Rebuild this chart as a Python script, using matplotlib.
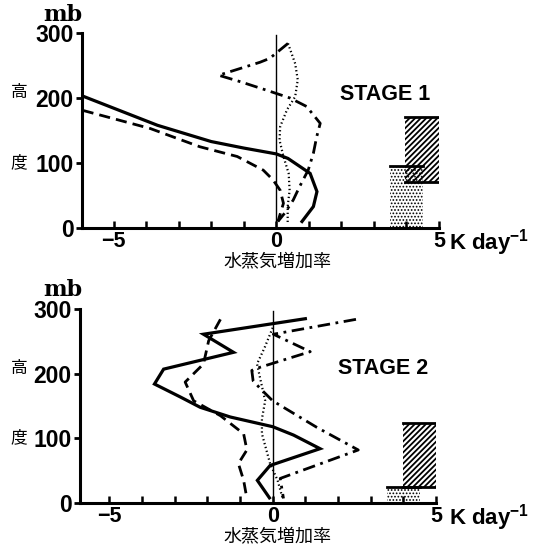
import matplotlib
matplotlib.use('Agg')
import numpy as np
import matplotlib.pyplot as plt

plt.rcParams['font.family'] = ['Liberation Sans', 'Noto Sans CJK JP']
plt.rcParams['mathtext.fontset'] = 'custom'
plt.rcParams['mathtext.rm'] = 'Liberation Sans:bold'
plt.rcParams['mathtext.bf'] = 'Liberation Sans:bold'

# ---- STAGE 1 profiles (x: K/day, y: mb)
s1_solid_x = [-5.95, -3.65, -2.0, -1.0, 0.0, 0.36, 1.04, 1.25, 1.14, 0.79]
s1_solid_y = [203, 158, 133, 123, 114, 107, 84, 56, 33, 10]
s1_dash_x = [-5.95, -3.87, -2.35, -1.2, -0.4, -0.1, 0.12, 0.22, 0.05]
s1_dash_y = [181, 153, 125, 110, 89, 74, 58, 38, 10]
s1_dashdot_x = [0.36, -0.2, -0.5, -1.77, -1.1, -0.3, 0.42, 0.93, 1.35, 1.24, 1.14, 0.98, 0.72, 0.52, 0.26, 0.05]
s1_dashdot_y = [284, 261, 255, 235, 225, 212, 200, 187, 161, 140, 115, 89, 64, 43, 23, 10]
s1_dot_x = [0.36, 0.58, 0.66, 0.58, 0.33, 0.12, 0.1, 0.22, 0.38, 0.41, 0.35, 0.35]
s1_dot_y = [284, 253, 228, 202, 182, 156, 135, 110, 84, 58, 33, 8]
# bars: (x0, x1, y0, y1)
s1_hatch_bar = (3.97, 5.0, 71, 171)
s1_stipple_bar = (3.5, 4.5, 0, 96)

# ---- STAGE 2 profiles
s2_solid_x = [1.0, -2.12, -1.2, -3.34, -3.62, -2.83, -2.22, -1.3, 0.0, 0.64, 1.45, -0.08, -0.47, -0.1]
s2_solid_y = [285, 261, 233, 207, 184, 164, 148, 133, 118, 105, 84, 58, 35, 8]
s2_dash_x = [-1.6, -1.96, -2.12, -2.68, -2.42, -1.6, -0.89, -0.79, -1.05, -0.89, -0.79]
s2_dash_y = [284, 251, 215, 187, 158, 135, 107, 82, 61, 35, 7]
s2_dot_x = [0.0, -0.25, -0.48, -0.35, -0.23, -0.33, -0.33, -0.08, 0.15, 0.3]
s2_dot_y = [271, 240, 215, 185, 158, 130, 107, 61, 35, 8]
s2_dashdot_x = [2.55, 0.02, 1.15, -0.38, -0.64, -0.6, -0.38, 0.0, 1.35, 2.62, 0.23, 0.33]
s2_dashdot_y = [284, 261, 234, 210, 205, 189, 177, 158, 117, 82, 38, 7]
s2_hatch_bar = (4.0, 5.0, 24, 124)
s2_stipple_bar = (3.5, 4.52, 0, 25)

yticks = [0, 100, 200, 300]
xticks_major = [-5, 0, 5]
xtick_labels = ['\u22125', '0', '5']
xticks_minor = list(range(-5, 6))

W, H = 533, 553
fig = plt.figure(figsize=(W / 100, H / 100), dpi=100)


def fpos(px, py):
    return px / W, 1 - py / H


def make_axes(left, right, bottom, top, xmin):
    ax = fig.add_axes([left / W, 1 - bottom / H, (right - left) / W, (bottom - top) / H])
    ax.set_xlim(xmin, 5)
    ax.set_ylim(0, 300)
    for s in ['top', 'right']:
        ax.spines[s].set_visible(False)
    for s in ['left', 'bottom']:
        ax.spines[s].set_linewidth(2.2)
    ax.set_yticks(yticks)
    ax.set_yticklabels([str(v) for v in yticks], fontsize=16.5, fontweight='bold')
    ax.tick_params(axis='y', direction='out', length=4, width=2, pad=2)
    ax.set_xticks(xticks_major)
    ax.set_xticklabels(xtick_labels, fontsize=15.5, fontweight='bold')
    ax.set_xticks(xticks_minor, minor=True)
    ax.tick_params(axis='x', which='both', direction='in', length=5, width=1.8, pad=2)
    ax.patch.set_visible(False)
    return ax


def draw_profiles(ax, solid, dash, dashdot, dot):
    ax.plot([0, 0], [0, 297], color='black', lw=1.0)
    ax.plot(solid[0], solid[1], color='black', lw=2.3, solid_joinstyle='miter')
    ax.plot(dash[0], dash[1], color='black', lw=2.0, dashes=(4, 2.2))
    ax.plot(dashdot[0], dashdot[1], color='black', lw=2.0, dashes=(4.5, 2, 1, 2))
    ax.plot(dot[0], dot[1], color='black', lw=1.6, dashes=(0.6, 1.2))


def draw_bars(ax, hatch_bar, stipple_bar):
    x0, x1, y0, y1 = stipple_bar
    with plt.rc_context({'hatch.linewidth': 0.8}):
        ax.bar(x0, y1 - y0, width=x1 - x0, bottom=y0, align='edge', fill=False,
               hatch='.....', linewidth=0, edgecolor='black')
    ax.plot([x0, x1], [y1, y1], color='black', lw=2.0)
    x0, x1, y0, y1 = hatch_bar
    with plt.rc_context({'hatch.linewidth': 1.3}):
        ax.bar(x0, y1 - y0, width=x1 - x0, bottom=y0, align='edge', fill=False,
               hatch='//////', linewidth=0, edgecolor='black')
    ax.plot([x0, x1], [y1, y1], color='black', lw=2.0)
    ax.plot([x0, x1], [y0, y0], color='black', lw=2.0)


# top panel
ax1 = make_axes(82, 439, 228, 33, -5.97)
draw_profiles(ax1, (s1_solid_x, s1_solid_y), (s1_dash_x, s1_dash_y),
              (s1_dashdot_x, s1_dashdot_y), (s1_dot_x, s1_dot_y))
draw_bars(ax1, s1_hatch_bar, s1_stipple_bar)

# bottom panel
ax2 = make_axes(80, 436, 503, 309, -5.9)
draw_profiles(ax2, (s2_solid_x, s2_solid_y), (s2_dash_x, s2_dash_y),
              (s2_dashdot_x, s2_dashdot_y), (s2_dot_x, s2_dot_y))
draw_bars(ax2, s2_hatch_bar, s2_stipple_bar)

# labels
for (yoff, stage) in [(0, 'STAGE 1'), (275, 'STAGE 2')]:
    fig.text(*fpos(63, 15 + yoff), 'mb', fontsize=16, fontweight='bold',
             family='DejaVu Serif', ha='center', va='center')
    fig.text(*fpos(19, 93 + yoff), '高', fontsize=12, family='Noto Sans CJK JP',
             ha='center', va='center')
    fig.text(*fpos(19, 163 + yoff), '度', fontsize=12, family='Noto Sans CJK JP',
             ha='center', va='center')
    fig.text(*fpos(277, 262 + yoff), '水蒸気増加率', fontsize=13, family='Noto Sans CJK JP',
             ha='center', va='center')
    fig.text(*fpos(449, 243 + yoff), r'K day$^{-1}$', fontsize=16, fontweight='bold',
             ha='left', va='center')

fig.text(*fpos(385, 94), 'STAGE 1', fontsize=15.5, fontweight='bold', ha='center', va='center')
fig.text(*fpos(383, 368), 'STAGE 2', fontsize=15.5, fontweight='bold', ha='center', va='center')

fig.savefig('out.png', dpi=100)
